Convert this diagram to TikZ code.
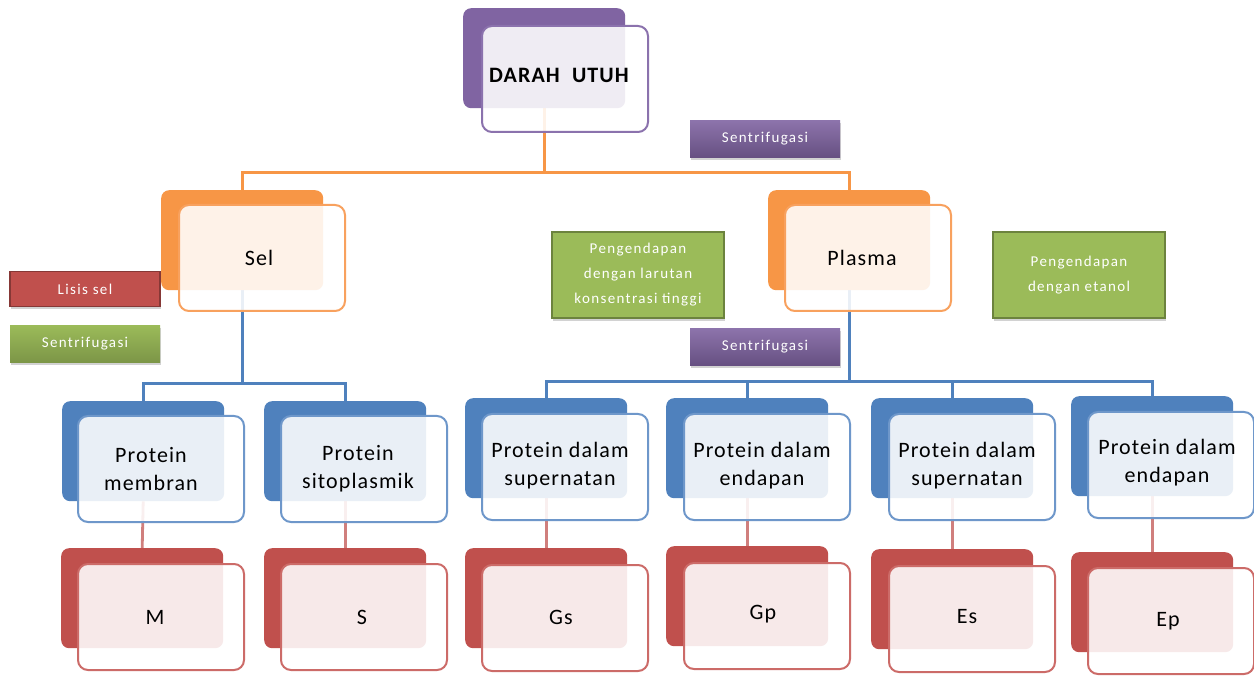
\documentclass[tikz,border=0pt]{standalone}
\usepackage{fontspec}
\setmainfont{Carlito}
\newfontfamily\boxfont[LetterSpace=5]{Carlito}
\newfontfamily\labfont[LetterSpace=9]{Carlito}
\usetikzlibrary{shadows,backgrounds}
\definecolor{cpurple}{HTML}{8064A2}
\definecolor{corange}{HTML}{F79646}
\definecolor{cblue}{HTML}{4F81BD}
\definecolor{cred}{HTML}{C0504D}
\definecolor{cgreen}{HTML}{9BBB59}
\definecolor{fpurple}{HTML}{8B72AD}
\definecolor{forange}{HTML}{F8A15E}
\definecolor{fblue}{HTML}{6E97CA}
\definecolor{fred}{HTML}{CC6B68}
\definecolor{lred}{HTML}{D07F7D}
\tikzset{
  backbox/.style={rectangle, rounded corners=8pt, anchor=north west, minimum width=162pt, minimum height=100pt, inner sep=0pt, fill=#1, draw=none},
  frontbox/.style={rectangle, rounded corners=10pt, anchor=north west, minimum width=166pt, minimum height=106pt, inner sep=0pt, draw=#1, line width=2pt, fill=white, fill opacity=0.88, text opacity=1},
  boxtext/.style={font=\boxfont\fontsize{22}{28}\selectfont, align=center, text=black, inner sep=0pt},
  labbox/.style={rectangle, inner sep=0pt, align=center, text=white, font=\labfont\fontsize{15}{24}\selectfont, drop shadow={shadow xshift=1pt, shadow yshift=-3pt, opacity=0.35}},
  purplelab/.style={labbox, top color=cpurple!90!white, bottom color=cpurple!80!black, minimum width=150pt, minimum height=37pt},
  greenlab/.style={labbox, top color=cgreen, bottom color=cgreen!80!black, minimum width=150pt, minimum height=37pt},
  redlab/.style={labbox, fill=cred, draw=cred!70!black, line width=1.2pt, minimum width=150pt, minimum height=35pt},
  bigglab/.style={labbox, fill=cgreen, draw=cgreen!70!black, line width=1.2pt, minimum width=172pt, minimum height=86pt, font=\labfont\fontsize{15}{25}\selectfont},
  oline/.style={draw=corange, line width=2.8pt},
  bline/.style={draw=cblue, line width=2.8pt},
  rline/.style={draw=lred, line width=2.8pt}
}
\begin{document}
\begin{tikzpicture}[x=1pt,y=-1pt]
\useasboundingbox (0,0) rectangle (1254,676);
% top
\node[backbox=cpurple] (darah-b) at (463,8) {};
\node[frontbox=fpurple] (darah) at (481,25) {};
\node[boxtext, font=\boxfont\bfseries\fontsize{22}{28}\selectfont] (darah-t) at (559,75) {DARAH\ \ UTUH};
% level 2
\node[backbox=corange] (sel-b) at (161,190) {};
\node[frontbox=forange] (sel) at (178,204) {};
\node[boxtext] (sel-t) at (259,258) {Sel};
\node[backbox=corange] (plasma-b) at (768,190) {};
\node[frontbox=forange] (plasma) at (784,204) {};
\node[boxtext] (plasma-t) at (862,258) {Plasma};
% level 3 (blue)
\node[backbox=cblue] (p1-b) at (62,401) {};
\node[frontbox=fblue] (p1) at (77,415) {};
\node[boxtext] (p1-t) at (151,469) {Protein\\membran};
\node[backbox=cblue] (p2-b) at (264,401) {};
\node[frontbox=fblue] (p2) at (280,415) {};
\node[boxtext] (p2-t) at (358,469) {Protein\\sitoplasmik};
\node[backbox=cblue] (p3-b) at (465,398) {};
\node[frontbox=fblue] (p3) at (481,413) {};
\node[boxtext] (p3-t) at (560,466) {Protein dalam\\supernatan};
\node[backbox=cblue] (p4-b) at (666,398) {};
\node[frontbox=fblue] (p4) at (683,413) {};
\node[boxtext] (p4-t) at (762,466) {Protein dalam\\endapan};
\node[backbox=cblue] (p5-b) at (871,398) {};
\node[frontbox=fblue] (p5) at (888,413) {};
\node[boxtext] (p5-t) at (967,466) {Protein dalam\\supernatan};
\node[backbox=cblue] (p6-b) at (1071,396) {};
\node[frontbox=fblue] (p6) at (1087,411) {};
\node[boxtext] (p6-t) at (1167,463) {Protein dalam\\endapan};
% level 4 (red)
\node[backbox=cred] (r1-b) at (61,548) {};
\node[frontbox=fred] (r1) at (77,563) {};
\node[boxtext] (r1-t) at (155,617) {M};
\node[backbox=cred] (r2-b) at (264,548) {};
\node[frontbox=fred] (r2) at (280,563) {};
\node[boxtext] (r2-t) at (362,617) {S};
\node[backbox=cred] (r3-b) at (465,548) {};
\node[frontbox=fred] (r3) at (481,564) {};
\node[boxtext] (r3-t) at (561,617) {Gs};
\node[backbox=cred] (r4-b) at (666,546) {};
\node[frontbox=fred] (r4) at (683,562) {};
\node[boxtext] (r4-t) at (763,614) {Gp};
\node[backbox=cred] (r5-b) at (871,549) {};
\node[frontbox=fred] (r5) at (888,565) {};
\node[boxtext] (r5-t) at (967,617) {Es};
\node[backbox=cred] (r6-b) at (1071,552) {};
\node[frontbox=fred] (r6) at (1087,567) {};
\node[boxtext] (r6-t) at (1168,621) {Ep};
% labels
\node[purplelab] (sent1) at (765,139) {Sentrifugasi};
\node[purplelab] (sent2) at (765,347) {Sentrifugasi};
\node[redlab] (lisis) at (85,289) {Lisis sel};
\node[greenlab] (sent3) at (85,344) {Sentrifugasi};
\node[bigglab] (peng1) at (638,275) {Pengendapan\\dengan larutan\\konsentrasi tinggi};
\node[bigglab] (peng2) at (1079,275) {Pengendapan\\dengan etanol};
% connectors
\begin{scope}[on background layer]
\fill[white] (0,0) rectangle (1254,676);
\draw[oline] (darah-b.south) -- ++(0,64) -| (sel-b.north);
\draw[oline] (darah-b.south) -- ++(0,64) -| (plasma-b.north);
\draw[bline] (sel-b.south) -- ++(0,93) -| (p1-b.north);
\draw[bline] (sel-b.south) -- ++(0,93) -| (p2-b.north);
\draw[bline] (plasma-b.south) -- ++(0,91) -| (p3-b.north);
\draw[bline] (plasma-b.south) -- ++(0,91) -| (p4-b.north);
\draw[bline] (plasma-b.south) -- ++(0,91) -| (p5-b.north);
\draw[bline] (plasma-b.south) -- ++(0,91) -| (p6-b.north);
\draw[rline] (p1-b.south) -- (r1-b.north);
\draw[rline] (p2-b.south) -- (r2-b.north);
\draw[rline] (p3-b.south) -- (r3-b.north);
\draw[rline] (p4-b.south) -- (r4-b.north);
\draw[rline] (p5-b.south) -- (r5-b.north);
\draw[rline] (p6-b.south) -- (r6-b.north);
\end{scope}
\end{tikzpicture}
\end{document}
